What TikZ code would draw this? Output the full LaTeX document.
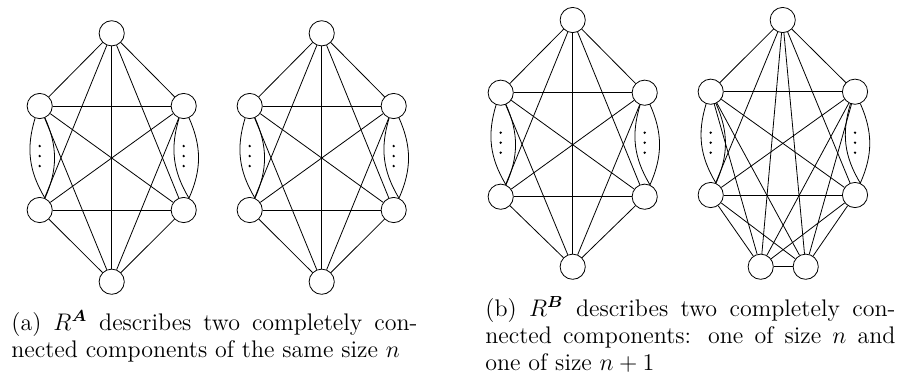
\documentclass[tikz,border=0pt]{standalone}
\usepackage{amsmath}
\begin{document}
\begin{tikzpicture}[x=0.5pt,y=-0.5pt,
  vtx/.style={draw,circle,minimum size=12.6pt,inner sep=0pt},
  lens/.style={bend left=24},
  capt/.style={anchor=north west,inner sep=0pt,align=justify,font=\fontsize{12}{13.5}\selectfont}]
\useasboundingbox (0,0) rectangle (898,377);
% three components of size n
\foreach \g/\x/\y/\h in {p/111.7/33.3/248.4,q/321.7/33.3/248.4,r/572.7/20/246.7}{
  \begin{scope}[shift={(\x,\y)}]
  \node[vtx] (\g t) at (0,0) {};
  \node[vtx] (\g l1) at (-72,72.7) {};
  \node[vtx] (\g l2) at (-72,176.7) {};
  \node[vtx] (\g r1) at (72,72.7) {};
  \node[vtx] (\g r2) at (72,176.7) {};
  \node[vtx] (\g b) at (0,\h) {};
  \foreach \a/\b in {t/l1,t/l2,t/r1,t/r2,t/b,l1/r1,l1/r2,l1/b,l2/r1,l2/r2,l2/b,r1/b,r2/b}
    \draw (\g\a) -- (\g\b);
  \draw (\g l1) to[lens] (\g l2) to[lens] (\g l1);
  \draw (\g r1) to[lens] (\g r2) to[lens] (\g r1);
  \foreach \d in {-10,0,10}{
    \fill (-72,122.7+\d) circle (0.65pt);
    \fill (72,122.7+\d) circle (0.65pt);
  }
  \end{scope}
}
% component of size n+1
\begin{scope}[shift={(782.7,20)}]
\node[vtx] (st) at (0,0) {};
\node[vtx] (sl1) at (-72,71.7) {};
\node[vtx] (sl2) at (-72,175) {};
\node[vtx] (sr1) at (72.3,71.7) {};
\node[vtx] (sr2) at (72.3,175) {};
\node[vtx] (sb1) at (-22,246.7) {};
\node[vtx] (sb2) at (23,246.7) {};
\foreach \a/\b in {t/l1,t/l2,t/r1,t/r2,t/b1,t/b2,l1/r1,l1/r2,l1/b1,l1/b2,l2/r1,l2/r2,l2/b1,l2/b2,
  r1/b1,r1/b2,r2/b1,r2/b2,b1/b2}
  \draw (s\a) -- (s\b);
\draw (sl1) to[lens] (sl2) to[lens] (sl1);
\draw (sr1) to[lens] (sr2) to[lens] (sr1);
\foreach \d in {-10,0,10}{
  \fill (-72,122.7+\d) circle (0.65pt);
  \fill (72.3,122.7+\d) circle (0.65pt);
}
\end{scope}
% captions
\node[capt,text width=203pt] (capa) at (11,310)
  {(a) $R^{\boldsymbol{A}}$ describes two completely con-\linebreak nected components of the same size $n$};
\node[capt,text width=205pt] (capb) at (485,296)
  {(b) $R^{\boldsymbol{B}}$ describes two completely con-\linebreak nected components: one of size $n$ and\linebreak one of size $n+1$};
\end{tikzpicture}
\end{document}
